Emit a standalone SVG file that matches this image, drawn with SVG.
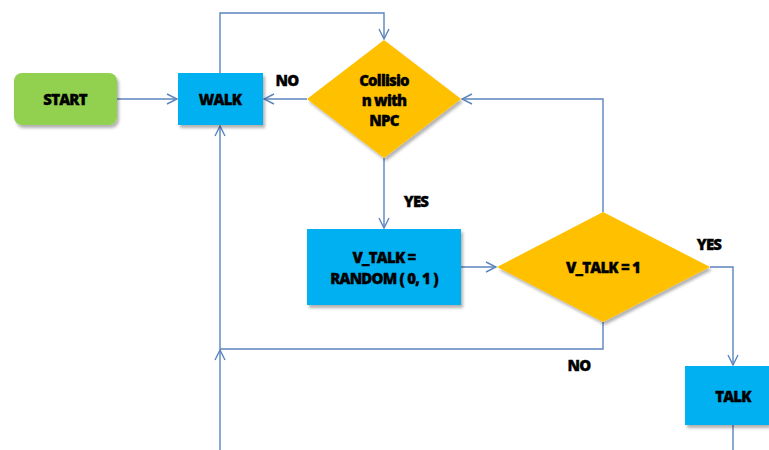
<svg xmlns="http://www.w3.org/2000/svg" width="769" height="450" viewBox="0 0 769 450">
<style>
.t{font-family:"Open Sans","Liberation Sans",sans-serif;font-weight:800;font-size:15px;fill:#000;stroke:#000;stroke-width:0.35;text-anchor:middle;letter-spacing:-0.8px}
.c{fill:none;stroke:#5B84BE;stroke-width:1.4}
.blue{fill:#00B0F0}
.yel{fill:#FFC000}
</style>
<defs>
<marker id="ah" viewBox="0 0 12 12" refX="11" refY="6" markerWidth="12" markerHeight="12" markerUnits="userSpaceOnUse" orient="auto">
<path d="M1,1 L11,6 L1,11" fill="none" stroke="#5B84BE" stroke-width="1.4"/>
</marker>
<filter id="sh" x="-10%" y="-10%" width="130%" height="140%">
<feDropShadow dx="2" dy="3" stdDeviation="1.8" flood-color="#000" flood-opacity="0.3"/>
</filter>
</defs>
<g id="connectors">
<path class="c" d="M117,99 H177" marker-end="url(#ah)"/>
<path class="c" d="M307,99 H264" marker-end="url(#ah)"/>
<path class="c" d="M220,73 V13 H384 V39" marker-end="url(#ah)"/>
<path class="c" d="M384,158 V228" marker-end="url(#ah)"/>
<path class="c" d="M461,267 H496" marker-end="url(#ah)"/>
<path class="c" d="M603,212 V99 H462" marker-end="url(#ah)"/>
<path class="c" d="M710,267 H733 V365" marker-end="url(#ah)"/>
<path class="c" d="M603,322 V349 H220 V126" marker-end="url(#ah)"/>
<path class="c" d="M220,450 V350" marker-end="url(#ah)"/>
<path class="c" d="M733,425 V450"/>
</g>
<g id="labels">
<text class="t" x="287" y="86">NO</text>
<text class="t" x="416" y="207">YES</text>
<text class="t" x="709" y="250">YES</text>
<text class="t" x="579" y="371">NO</text>
</g>
<g id="start">
<rect x="14" y="73" width="103" height="52" rx="8" fill="#92D050" filter="url(#sh)"/>
<text class="t" x="65" y="105">START</text>
</g>
<g id="walk">
<rect x="178" y="73" width="85" height="52" class="blue" filter="url(#sh)"/>
<text class="t" x="220" y="105">WALK</text>
</g>
<g id="collision">
<polygon points="384,40 461,99 384,158 307,99" class="yel" filter="url(#sh)"/>
<text class="t" x="384" y="86">Collisio</text>
<text class="t" x="384" y="106">n with</text>
<text class="t" x="384" y="126">NPC</text>
</g>
<g id="vtalk-assign">
<rect x="307" y="229" width="154" height="76" class="blue" filter="url(#sh)"/>
<text class="t" x="384" y="263">V_TALK =</text>
<text class="t" x="384" y="284">RANDOM ( 0, 1 )</text>
</g>
<g id="vtalk-check">
<polygon points="603,212 710,267 603,322 497,267" class="yel" filter="url(#sh)"/>
<text class="t" x="603" y="273">V_TALK = 1</text>
</g>
<g id="talk">
<rect x="685" y="366" width="84" height="59" class="blue" filter="url(#sh)"/>
<text class="t" x="733" y="402">TALK</text>
</g>
</svg>
